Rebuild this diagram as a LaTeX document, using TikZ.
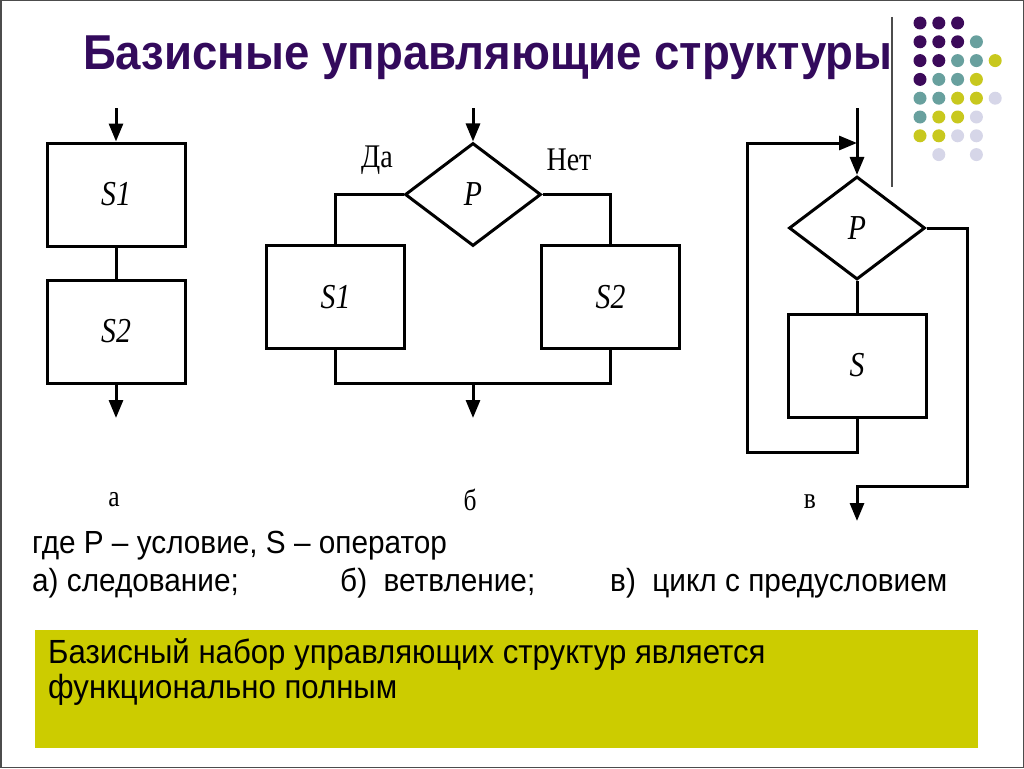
\documentclass[tikz,border=0pt]{standalone}
\usepackage{fontspec}
\setmainfont{Liberation Serif}
\setsansfont{Liberation Sans}
\newfontfamily\headfont{Liberation Sans}[FakeStretch=0.93]
\newfontfamily\bodyfont{Liberation Sans}[FakeStretch=0.93]
\newfontfamily\flowfont{Liberation Serif}[FakeStretch=0.85]
\usetikzlibrary{shapes.geometric,arrows.meta,positioning}
\definecolor{titlepurple}{HTML}{330A5C}
\definecolor{panelgreen}{HTML}{CCCC00}
\definecolor{dotp}{HTML}{3C0A5A}
\definecolor{dott}{HTML}{68A09E}
\definecolor{doty}{HTML}{C8C81E}
\definecolor{dotl}{HTML}{D6D6E8}
\begin{document}
\begin{tikzpicture}[x=1pt, y=-1pt,
  block/.style={rectangle, draw, line width=3pt, minimum width=138pt, minimum height=103pt, inner sep=0pt, font=\flowfont\itshape\fontsize{35}{38}\selectfont},
  cond/.style={diamond, draw, line width=3pt, minimum width=136pt, minimum height=103pt, inner sep=0pt, font=\flowfont\itshape\fontsize{35}{38}\selectfont},
  wire/.style={line width=3pt},
  flow/.style={-{Triangle[length=18pt, width=14pt]}, line width=3pt},
  lbl/.style={font=\flowfont\fontsize{33}{36}\selectfont},
  sub/.style={font=\flowfont\fontsize{30}{32}\selectfont},
  note/.style={anchor=base west, inner sep=0pt, font=\bodyfont\fontsize{32}{36}\selectfont},
  thesisline/.style={note, font=\bodyfont\fontsize{33.5}{38}\selectfont}
]
  \useasboundingbox (0,0) rectangle (1024,768);
  \draw[gray!60!black, line width=1.5pt] (0.75,0.75) rectangle (1023.25,767.25);

  % title and decoration
  \node[anchor=base west, inner sep=0pt, text=titlepurple, font=\headfont\bfseries\fontsize{49}{56}\selectfont] (title) at (83,70) {Базисные управляющие структуры};
  \draw[gray!60!black, line width=1.5pt] (892,17) -- (892,187);
  \foreach \c/\r/\col in {0/0/dotp,1/0/dotp,2/0/dotp,
      0/1/dotp,1/1/dotp,2/1/dotp,3/1/dott,
      0/2/dotp,1/2/dotp,2/2/dott,3/2/dott,4/2/doty,
      0/3/dotp,1/3/dott,2/3/dott,3/3/doty,
      0/4/dott,1/4/dott,2/4/doty,3/4/doty,4/4/dotl,
      0/5/dott,1/5/doty,2/5/doty,3/5/dotl,
      0/6/doty,1/6/doty,2/6/dotl,3/6/dotl,
      1/7/dotl,3/7/dotl}
    \fill[\col] ({920+18.8*\c},{23+18.8*\r}) circle (6.5);

  % a) sequence
  \node[block] (a1) at (116,194.5) {S1};
  \node[block] (a2) at (116,331.5) {S2};
  \coordinate (ain) at (116,108);
  \coordinate (aout) at (116,418);
  \draw[flow] (ain) -- (a1);
  \draw[wire] (a1) -- (a2);
  \draw[flow] (a2) -- (aout);
  \node[sub] (la) at (114,500) {а};

  % b) branching
  \node[cond] (bp) at (473,194.5) {P};
  \node[block] (b1) at (335.5,297) {S1};
  \node[block] (b2) at (610.5,297) {S2};
  \coordinate (bin) at (473,108);
  \coordinate (bjoin) at (473,383);
  \coordinate (bout) at (473,418);
  \draw[flow] (bin) -- (bp);
  \draw[wire] (bp.west) -| (b1.north);
  \draw[wire] (bp.east) -| (b2.north);
  \draw[wire] (b1.south) |- (bjoin) -| (b2.south);
  \draw[flow] (bjoin) -- (bout);
  \node[lbl] (yes) at (377,160) {Да};
  \node[lbl] (no) at (569,160) {Нет};
  \node[sub] (lb) at (470,500) {б};

  % c) loop with precondition
  \node[cond] (cp) at (857,228) {P};
  \node[block] (cs) at (857,365.5) {S};
  \coordinate (cin) at (857,108);
  \coordinate (cback) at (857,143);
  \coordinate (cloop) at (747,452);
  \coordinate (cright) at (967,486);
  \coordinate (cexit) at (857,486);
  \coordinate (cout) at (857,521);
  \draw[flow] (cin) -- (cp);
  \draw[wire] (cp) -- (cs);
  \draw[flow] (cs.south) |- (cloop) |- (cback);
  \draw[flow] (cp.east) -| (cright) -- (cexit) -- (cout);
  \node[sub] (lc) at (810,502) {в};

  % legend
  \node[note] (where) at (32,553) {где P – условие, S – оператор};
  \node[note] (seq) at (32,591) {а) следование;};
  \node[note] (branch) at (340,591) {б)\ \ ветвление;};
  \node[note] (cycle) at (610,591) {в)\ \ цикл с предусловием};

  % conclusion
  \node[anchor=north west, fill=panelgreen, minimum width=943pt, minimum height=118pt, inner sep=0pt] (panel) at (35,630) {};
  \node[thesisline] (thesis) at (48,663) {Базисный набор управляющих структур является};
  \node[thesisline] (thesis2) at (48,698) {функционально полным};
\end{tikzpicture}
\end{document}
